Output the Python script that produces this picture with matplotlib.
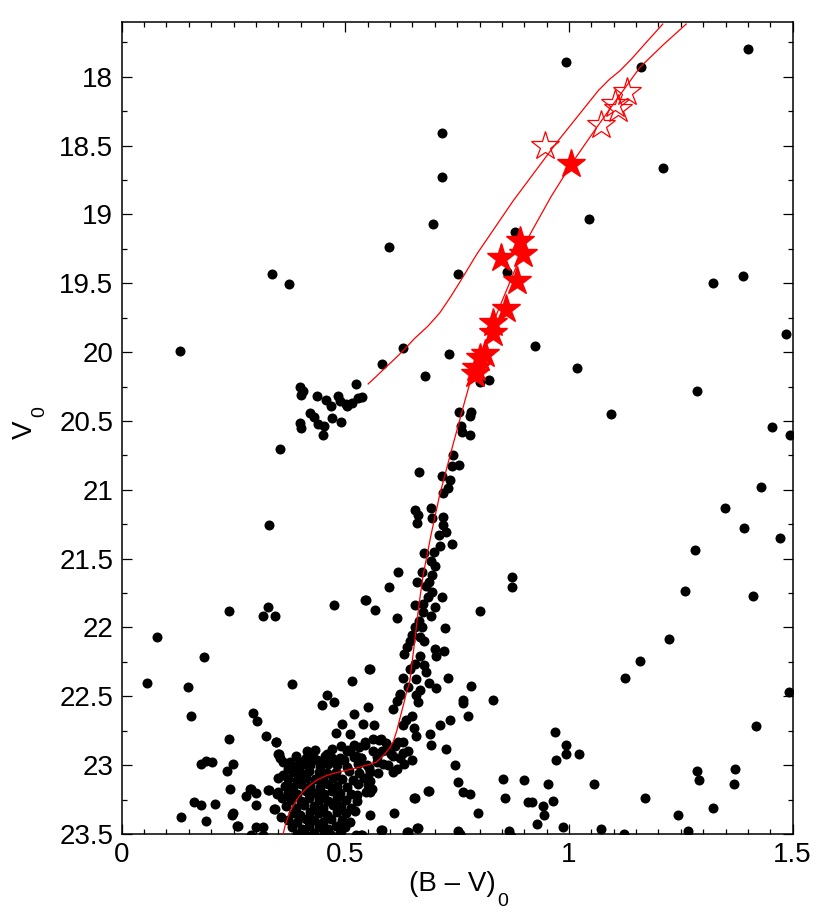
import matplotlib
matplotlib.use('Agg')
import matplotlib.pyplot as plt
from matplotlib.ticker import MultipleLocator, FuncFormatter

plt.rcParams['font.family'] = ['Liberation Sans', 'DejaVu Sans']

# isochrone (RGB) and its AGB branch
iso_bv = [0.361, 0.366, 0.376, 0.386, 0.398, 0.415, 0.4355, 0.458, 0.480, 0.503,
          0.525, 0.548, 0.570, 0.585, 0.598, 0.607, 0.615, 0.622, 0.630, 0.637,
          0.644, 0.655, 0.664, 0.674, 0.692, 0.711, 0.740, 0.767, 0.7785, 0.801,
          0.838, 0.875, 0.913, 0.960, 1.010, 1.055, 1.099, 1.159, 1.210, 1.262]
iso_v = [23.50, 23.43, 23.34, 23.28, 23.22, 23.16, 23.11, 23.075, 23.054, 23.037,
         23.02, 23.00, 22.977, 22.93, 22.88, 22.83, 22.75, 22.66, 22.56, 22.467,
         22.394, 22.10, 21.85, 21.618, 21.32, 21.036, 20.68, 20.357, 20.224, 20.04,
         19.726, 19.435, 19.144, 18.87, 18.611, 18.40, 18.199, 17.93, 17.77, 17.617]
agb_bv = [0.551, 0.568, 0.585, 0.607, 0.629, 0.655, 0.685, 0.711, 0.735, 0.760,
          0.7935, 0.8754, 0.9724, 1.0656, 1.090, 1.114, 1.140, 1.170, 1.2096]
agb_v = [20.231, 20.18, 20.127, 20.06, 19.99, 19.90, 19.81, 19.715, 19.60, 19.47,
         19.29, 18.90, 18.478, 18.10, 18.02, 17.956, 17.87, 17.76, 17.617]

# spectroscopic targets
rgb_star_bv = [1.004, 0.890, 0.898, 0.849, 0.883, 0.860, 0.831, 0.831, 0.801, 0.793, 0.812, 0.790]
rgb_star_v = [18.63, 19.193, 19.29, 19.315, 19.484, 19.69, 19.787, 19.86, 20.04, 20.115, 20.017, 20.16]
agb_star_bv = [0.946, 1.071, 1.103, 1.110, 1.130]
agb_star_v = [18.502, 18.349, 18.199, 18.235, 18.114]

# photometry (B-V, V) by region
hb = [(0.398, 20.25), (0.406, 20.28), (0.402, 20.31), (0.437, 20.316), (0.456, 20.35),
      (0.469, 20.39), (0.484, 20.316), (0.488, 20.357), (0.501, 20.376), (0.514, 20.37),
      (0.529, 20.33), (0.538, 20.323), (0.503, 20.394), (0.421, 20.44), (0.430, 20.47),
      (0.439, 20.52), (0.452, 20.535), (0.398, 20.515), (0.402, 20.55), (0.449, 20.60),
      (0.470, 20.48), (0.491, 20.507), (0.523, 20.23)]

rgb = [(0.753, 20.437), (0.780, 20.435), (0.779, 20.466), (0.758, 20.534), (0.760, 20.58),
       (0.779, 20.605), (0.741, 20.745), (0.738, 20.83), (0.754, 20.82), (0.664, 20.874),
       (0.715, 20.90), (0.734, 20.927), (0.730, 20.99), (0.718, 21.02), (0.656, 21.145),
       (0.663, 21.18), (0.661, 21.243), (0.691, 21.133), (0.694, 21.206), (0.718, 21.196),
       (0.718, 21.255), (0.725, 21.308), (0.709, 21.33), (0.739, 21.395), (0.711, 21.41),
       (0.699, 21.45), (0.676, 21.46), (0.691, 21.52), (0.617, 21.60), (0.672, 21.60),
       (0.694, 21.62), (0.661, 21.67), (0.687, 21.667), (0.597, 21.705), (0.693, 21.74),
       (0.685, 21.776), (0.716, 21.78), (0.546, 21.80), (0.566, 21.87), (0.656, 21.837),
       (0.674, 21.83), (0.700, 21.85), (0.674, 21.89), (0.691, 21.92), (0.615, 21.93),
       (0.802, 21.88), (0.873, 21.636), (0.873, 21.703), (0.656, 21.994), (0.672, 22.0),
       (0.723, 22.006), (0.650, 22.055), (0.667, 22.067), (0.637, 22.14), (0.631, 22.196),
       (0.667, 22.205), (0.700, 22.156), (0.720, 22.17), (0.703, 22.21), (0.555, 22.30),
       (0.656, 22.268), (0.676, 22.27), (0.629, 22.37), (0.659, 22.375), (0.687, 22.40),
       (0.703, 22.443), (0.729, 22.37), (0.782, 22.426), (0.622, 22.486), (0.667, 22.455),
       (0.764, 22.53), (0.829, 22.523), (0.700, 21.55), (0.680, 21.70), (0.665, 21.95),
       (0.645, 22.10), (0.675, 22.10), (0.645, 22.30), (0.640, 22.43), (0.680, 22.32)]

turnoff = [(0.447, 22.565), (0.475, 22.54), (0.459, 22.49), (0.550, 22.58), (0.520, 22.63),
           (0.493, 22.70), (0.540, 22.70), (0.564, 22.71), (0.479, 22.765), (0.510, 22.77),
           (0.520, 22.85), (0.544, 22.855), (0.562, 22.81), (0.579, 22.81), (0.607, 22.59),
           (0.615, 22.535), (0.622, 22.49), (0.659, 22.49), (0.663, 22.54), (0.648, 22.64),
           (0.635, 22.67), (0.629, 22.71), (0.653, 22.73), (0.658, 22.79), (0.689, 22.77),
           (0.691, 22.855), (0.711, 22.71), (0.734, 22.67), (0.774, 22.64), (0.764, 22.545),
           (0.725, 22.88), (0.745, 23.0), (0.618, 22.83), (0.592, 22.89), (0.607, 22.93),
           (0.629, 22.915), (0.648, 22.96), (0.606, 23.05), (0.585, 22.99), (0.562, 22.90),
           (0.570, 22.94), (0.454, 22.93), (0.437, 22.96), (0.398, 22.976), (0.377, 22.98),
           (0.360, 22.976), (0.350, 22.916), (0.346, 22.83), (0.322, 22.79), (0.351, 22.92),
           (0.378, 22.99), (0.400, 22.976), (0.458, 22.92), (0.505, 22.89), (0.488, 22.95),
           (0.503, 22.90), (0.523, 22.93), (0.536, 22.95), (0.547, 23.195), (0.559, 23.17),
           (0.555, 23.117), (0.556, 23.36), (0.609, 23.35), (0.654, 23.24), (0.688, 23.185),
           (0.581, 23.47), (0.639, 23.485), (0.663, 23.456), (0.524, 23.51), (0.538, 23.51),
           (0.350, 23.09), (0.350, 23.195), (0.342, 23.316), (0.301, 23.45), (0.290, 23.51),
           (0.316, 23.45), (0.300, 23.29), (0.286, 23.17), (0.327, 23.18), (0.279, 23.226),
           (0.300, 23.20), (0.329, 23.18), (0.348, 23.21), (0.359, 23.24), (0.340, 23.316),
           (0.357, 23.38), (0.315, 23.505), (0.380, 23.175), (0.290, 23.175), (0.248, 22.99),
           (0.236, 23.04), (0.243, 23.17), (0.248, 23.35), (0.257, 23.44), (0.752, 23.12),
           (0.764, 23.195), (0.779, 23.21), (0.797, 23.345), (0.752, 23.48), (0.757, 23.50)]

blob = [(0.412, 22.95), (0.428, 22.94), (0.452, 22.96), (0.471, 22.95), (0.498, 22.96),
        (0.519, 22.94), (0.392, 23.01), (0.405, 22.99), (0.421, 23.00), (0.443, 23.01),
        (0.462, 22.99), (0.482, 23.00), (0.503, 23.01), (0.528, 22.99), (0.548, 23.00),
        (0.383, 23.05), (0.401, 23.06), (0.418, 23.04), (0.441, 23.05), (0.458, 23.06),
        (0.479, 23.05), (0.508, 23.04), (0.531, 23.06), (0.556, 23.05), (0.372, 23.10),
        (0.391, 23.11), (0.412, 23.09), (0.433, 23.10), (0.451, 23.11), (0.472, 23.09),
        (0.492, 23.10), (0.518, 23.11), (0.541, 23.09), (0.365, 23.15), (0.383, 23.16),
        (0.402, 23.14), (0.422, 23.15), (0.443, 23.16), (0.461, 23.14), (0.482, 23.15),
        (0.503, 23.16), (0.529, 23.14), (0.371, 23.20), (0.392, 23.21), (0.411, 23.19),
        (0.432, 23.20), (0.452, 23.21), (0.471, 23.19), (0.489, 23.20), (0.512, 23.21),
        (0.379, 23.25), (0.401, 23.26), (0.419, 23.24), (0.441, 23.25), (0.462, 23.26),
        (0.481, 23.24), (0.502, 23.25), (0.527, 23.26), (0.368, 23.30), (0.389, 23.31),
        (0.408, 23.29), (0.431, 23.30), (0.449, 23.31), (0.472, 23.29), (0.491, 23.30),
        (0.513, 23.31), (0.382, 23.35), (0.398, 23.36), (0.421, 23.34), (0.442, 23.35),
        (0.459, 23.36), (0.481, 23.34), (0.502, 23.35), (0.372, 23.40), (0.391, 23.41),
        (0.412, 23.39), (0.429, 23.40), (0.451, 23.41), (0.469, 23.39), (0.492, 23.40),
        (0.511, 23.41), (0.381, 23.45), (0.403, 23.46), (0.419, 23.44), (0.442, 23.45),
        (0.461, 23.46), (0.479, 23.44), (0.499, 23.45), (0.392, 23.50), (0.411, 23.51),
        (0.431, 23.49), (0.452, 23.50), (0.468, 23.51), (0.488, 23.49), (0.575, 22.82),
        (0.592, 22.84), (0.611, 22.86), (0.628, 22.83), (0.581, 22.90), (0.601, 22.92),
        (0.622, 22.95), (0.641, 22.90), (0.571, 22.98), (0.596, 23.00), (0.615, 23.03),
        (0.632, 22.99), (0.553, 23.02), (0.572, 23.06), (0.355, 22.95), (0.372, 23.03),
        (0.360, 23.07), (0.390, 22.93), (0.415, 22.90), (0.432, 22.89), (0.470, 22.88),
        (0.490, 22.86), (0.510, 22.90), (0.530, 22.87), (0.535, 22.95), (0.545, 22.83),
        (0.521, 23.33), (0.527, 23.22), (0.555, 23.195), (0.551, 23.146), (0.655, 23.24),
        (0.685, 23.19), (0.579, 23.47), (0.637, 23.485), (0.660, 23.456), (0.536, 23.51)]

left_field = [(0.130, 19.99), (0.337, 19.43), (0.374, 19.508), (0.353, 20.70), (0.329, 21.254),
              (0.240, 21.88), (0.326, 21.85), (0.316, 21.92), (0.342, 21.915), (0.475, 21.84),
              (0.545, 21.80), (0.078, 22.067), (0.183, 22.217), (0.057, 22.40), (0.149, 22.434),
              (0.381, 22.414), (0.516, 22.39), (0.553, 22.30), (0.154, 22.64), (0.294, 22.62),
              (0.303, 22.68), (0.239, 22.81), (0.346, 22.835), (0.178, 22.995), (0.189, 22.97),
              (0.202, 22.98), (0.161, 23.27), (0.178, 23.29), (0.209, 23.285), (0.132, 23.38),
              (0.189, 23.405), (0.247, 23.36), (0.259, 23.44)]

right_field = [(0.993, 17.89), (1.162, 17.93), (1.400, 17.80), (0.715, 18.405), (0.715, 18.73),
               (1.211, 18.66), (0.697, 19.067), (1.045, 19.03), (0.597, 19.237), (0.751, 19.436),
               (0.879, 19.13), (0.861, 19.42), (0.628, 19.97), (0.732, 20.01), (0.924, 19.957),
               (1.019, 20.115), (0.583, 20.086), (0.679, 20.175), (0.800, 20.22), (0.822, 20.20),
               (1.287, 20.285), (1.321, 19.50), (1.389, 19.45), (1.486, 19.865), (1.094, 20.45),
               (1.454, 20.544), (1.493, 20.60), (1.430, 20.98), (1.349, 21.133), (1.391, 21.28),
               (1.472, 21.35), (1.282, 21.44), (1.260, 21.737), (1.412, 21.77), (1.223, 22.086),
               (1.159, 22.24), (1.125, 22.37), (1.492, 22.47), (1.418, 22.715), (0.969, 22.76),
               (0.994, 22.855), (0.993, 22.92), (0.971, 22.96), (1.022, 22.92), (0.853, 23.10),
               (0.900, 23.11), (0.952, 23.136), (0.858, 23.236), (0.917, 23.27), (0.943, 23.30),
               (0.944, 23.36), (0.964, 23.26), (0.929, 23.43), (0.986, 23.45), (0.865, 23.48),
               (0.870, 23.515), (1.056, 23.134), (1.072, 23.466), (1.122, 23.50), (1.169, 23.24),
               (1.243, 23.36), (1.265, 23.476), (1.286, 23.04), (1.290, 23.105), (1.323, 23.31),
               (1.371, 23.025), (1.368, 23.14), (0.909, 23.27)]

phot = hb + rgb + turnoff + blob + left_field + right_field
phot_bv = [p[0] for p in phot]
phot_v = [p[1] for p in phot]

fig = plt.figure(figsize=(8.3, 9.16), dpi=100)
ax = fig.add_axes([0.1466, 0.0895, 0.8084, 0.8868])

ax.scatter(phot_bv, phot_v, s=52, c='k', lw=0, zorder=2)
ax.plot(iso_bv, iso_v, color='red', lw=0.9, zorder=3)
ax.plot(agb_bv, agb_v, color='red', lw=0.9, zorder=3)
ax.plot(rgb_star_bv, rgb_star_v, ls='none', marker='*', ms=21, color='red', mec='red', zorder=4)
ax.plot(agb_star_bv, agb_star_v, ls='none', marker='*', ms=21, mfc='none', mec='red', mew=0.9, zorder=4)

ax.set_xlim(0, 1.5)
ax.set_ylim(23.5, 17.6)

ax.xaxis.set_major_locator(MultipleLocator(0.5))
ax.xaxis.set_minor_locator(MultipleLocator(0.05))
ax.yaxis.set_major_locator(MultipleLocator(0.5))
ax.yaxis.set_minor_locator(MultipleLocator(0.25))
fmt = FuncFormatter(lambda v, pos: '%g' % v)
ax.xaxis.set_major_formatter(fmt)
ax.yaxis.set_major_formatter(fmt)
ax.tick_params(which='both', direction='in', top=True, right=True, labelsize=20, width=0.9)
ax.tick_params(which='major', length=7, pad=6)
ax.tick_params(which='minor', length=3.5)
for s in ax.spines.values():
    s.set_linewidth(1.1)

# axis titles with IDL-style low subscripts
fig.text(452 / 830, 1 - 884 / 916, '(B \u2013 V)', fontsize=20, ha='center', va='center')
fig.text(503 / 830, 1 - 902 / 916, '0', fontsize=14, ha='center', va='center')
fig.text(25 / 830, 1 - 430 / 916, 'V', fontsize=20, ha='center', va='center', rotation=90)
fig.text(40 / 830, 1 - 412 / 916, '0', fontsize=14, ha='center', va='center', rotation=90)

fig.savefig('out.png', dpi=100)
